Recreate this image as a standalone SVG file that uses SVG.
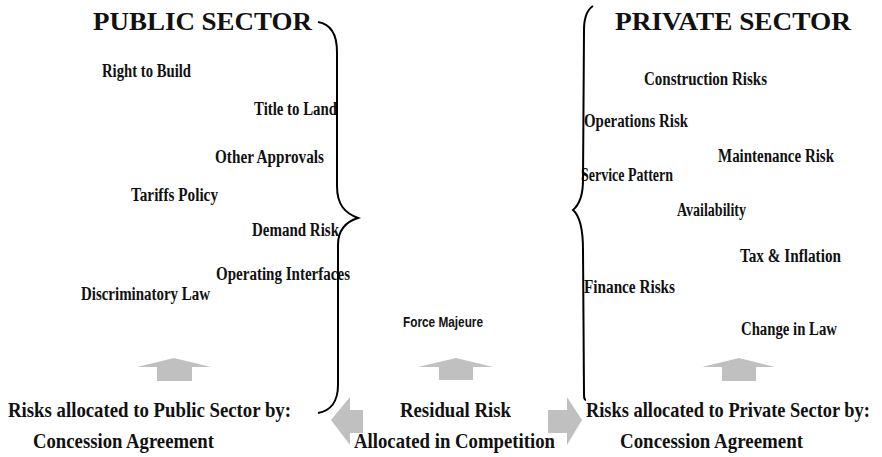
<svg xmlns="http://www.w3.org/2000/svg" width="882" height="457" viewBox="0 0 882 457">
  <style>
    .title { font-family: "Book Antiqua", "Liberation Serif", serif; font-weight: bold; font-size: 26px; fill: #111; }
    .risk { font-family: "Liberation Serif", "Times New Roman", serif; font-weight: bold; font-size: 18px; fill: #111; }
    .caption { font-family: "Liberation Serif", "Times New Roman", serif; font-weight: bold; font-size: 21px; fill: #111; }
    .fm { font-family: "Liberation Sans", Arial, sans-serif; font-weight: bold; font-size: 14px; fill: #111; }
    .brace { fill: none; stroke: #000; stroke-width: 2; }
    .arrow { fill: #c0c0c0; stroke: none; }
  </style>
  <rect width="882" height="457" fill="#fff"/>

  <!-- Public sector column -->
  <g id="public-sector">
    <text class="title" x="93" y="30" textLength="219" lengthAdjust="spacingAndGlyphs">PUBLIC SECTOR</text>
    <text class="risk" x="102" y="77" textLength="89" lengthAdjust="spacingAndGlyphs">Right to Build</text>
    <text class="risk" x="254" y="115" textLength="83" lengthAdjust="spacingAndGlyphs">Title to Land</text>
    <text class="risk" x="215" y="163" textLength="109" lengthAdjust="spacingAndGlyphs">Other Approvals</text>
    <text class="risk" x="131" y="201" textLength="87" lengthAdjust="spacingAndGlyphs">Tariffs Policy</text>
    <text class="risk" x="252" y="236" textLength="87" lengthAdjust="spacingAndGlyphs">Demand Risk</text>
    <text class="risk" x="216" y="280" textLength="134" lengthAdjust="spacingAndGlyphs">Operating Interfaces</text>
    <text class="risk" x="81" y="300" textLength="129" lengthAdjust="spacingAndGlyphs">Discriminatory Law</text>
  </g>

  <!-- Private sector column -->
  <g id="private-sector">
    <text class="title" x="615" y="30" textLength="236" lengthAdjust="spacingAndGlyphs">PRIVATE SECTOR</text>
    <text class="risk" x="644" y="85" textLength="123" lengthAdjust="spacingAndGlyphs">Construction Risks</text>
    <text class="risk" x="584" y="127" textLength="104" lengthAdjust="spacingAndGlyphs">Operations Risk</text>
    <text class="risk" x="718" y="162" textLength="116" lengthAdjust="spacingAndGlyphs">Maintenance Risk</text>
    <text class="risk" x="581" y="181" textLength="92" lengthAdjust="spacingAndGlyphs">Service Pattern</text>
    <text class="risk" x="677" y="216" textLength="69" lengthAdjust="spacingAndGlyphs">Availability</text>
    <text class="risk" x="740" y="262" textLength="101" lengthAdjust="spacingAndGlyphs">Tax &amp; Inflation</text>
    <text class="risk" x="584" y="293" textLength="91" lengthAdjust="spacingAndGlyphs">Finance Risks</text>
    <text class="risk" x="741" y="335" textLength="96" lengthAdjust="spacingAndGlyphs">Change in Law</text>
  </g>

  <!-- Shared risk -->
  <g id="force-majeure">
    <text class="fm" x="403" y="327" textLength="80" lengthAdjust="spacingAndGlyphs">Force Majeure</text>
  </g>

  <!-- Allocation captions -->
  <g id="public-caption">
    <text class="caption" x="8" y="417" textLength="283" lengthAdjust="spacingAndGlyphs">Risks allocated to Public Sector by:</text>
    <text class="caption" x="33" y="448" textLength="181" lengthAdjust="spacingAndGlyphs">Concession Agreement</text>
  </g>
  <g id="residual-caption">
    <text class="caption" x="400" y="417" textLength="111" lengthAdjust="spacingAndGlyphs">Residual Risk</text>
    <text class="caption" x="354" y="448" textLength="201" lengthAdjust="spacingAndGlyphs">Allocated in Competition</text>
  </g>
  <g id="private-caption">
    <text class="caption" transform="translate(586,417) scale(0.85,1)" x="0" y="0" textLength="334" lengthAdjust="spacingAndGlyphs">Risks allocated to Private Sector by:</text>
    <text class="caption" x="620" y="448" textLength="183" lengthAdjust="spacingAndGlyphs">Concession Agreement</text>
  </g>

  <!-- Connectors: braces and arrows -->
  <g id="connectors">
    <path class="brace" d="M318,22 C330,24 337,34 337,52 L337,186 C337,205 345,213 358,218 C345,222 338,230 338,245 L338,385 C338,402 330,411 318,413"/>
    <path class="brace" d="M593,6 C587,10 584,18 584,30 L583,180 C583,195 580,204 573,210 C580,216 583,228 583,250 L584,395 C584,398 585,400 586,400"/>
    <polygon class="arrow" points="137,367 174,358 211,367 192,367 192,381 157,381 157,367"/>
    <polygon class="arrow" points="418,367 456,358 493,367 473,367 473,380 439,380 439,367"/>
    <polygon class="arrow" points="702,367 739,358 775,367 756,367 756,381 722,381 722,367"/>
    <polygon class="arrow" points="331,420 350,397 350,410 363,410 363,433 350,433 350,445"/>
    <polygon class="arrow" points="582,420 567,397 567,410 548,410 548,433 567,433 567,445"/>
  </g>
</svg>
